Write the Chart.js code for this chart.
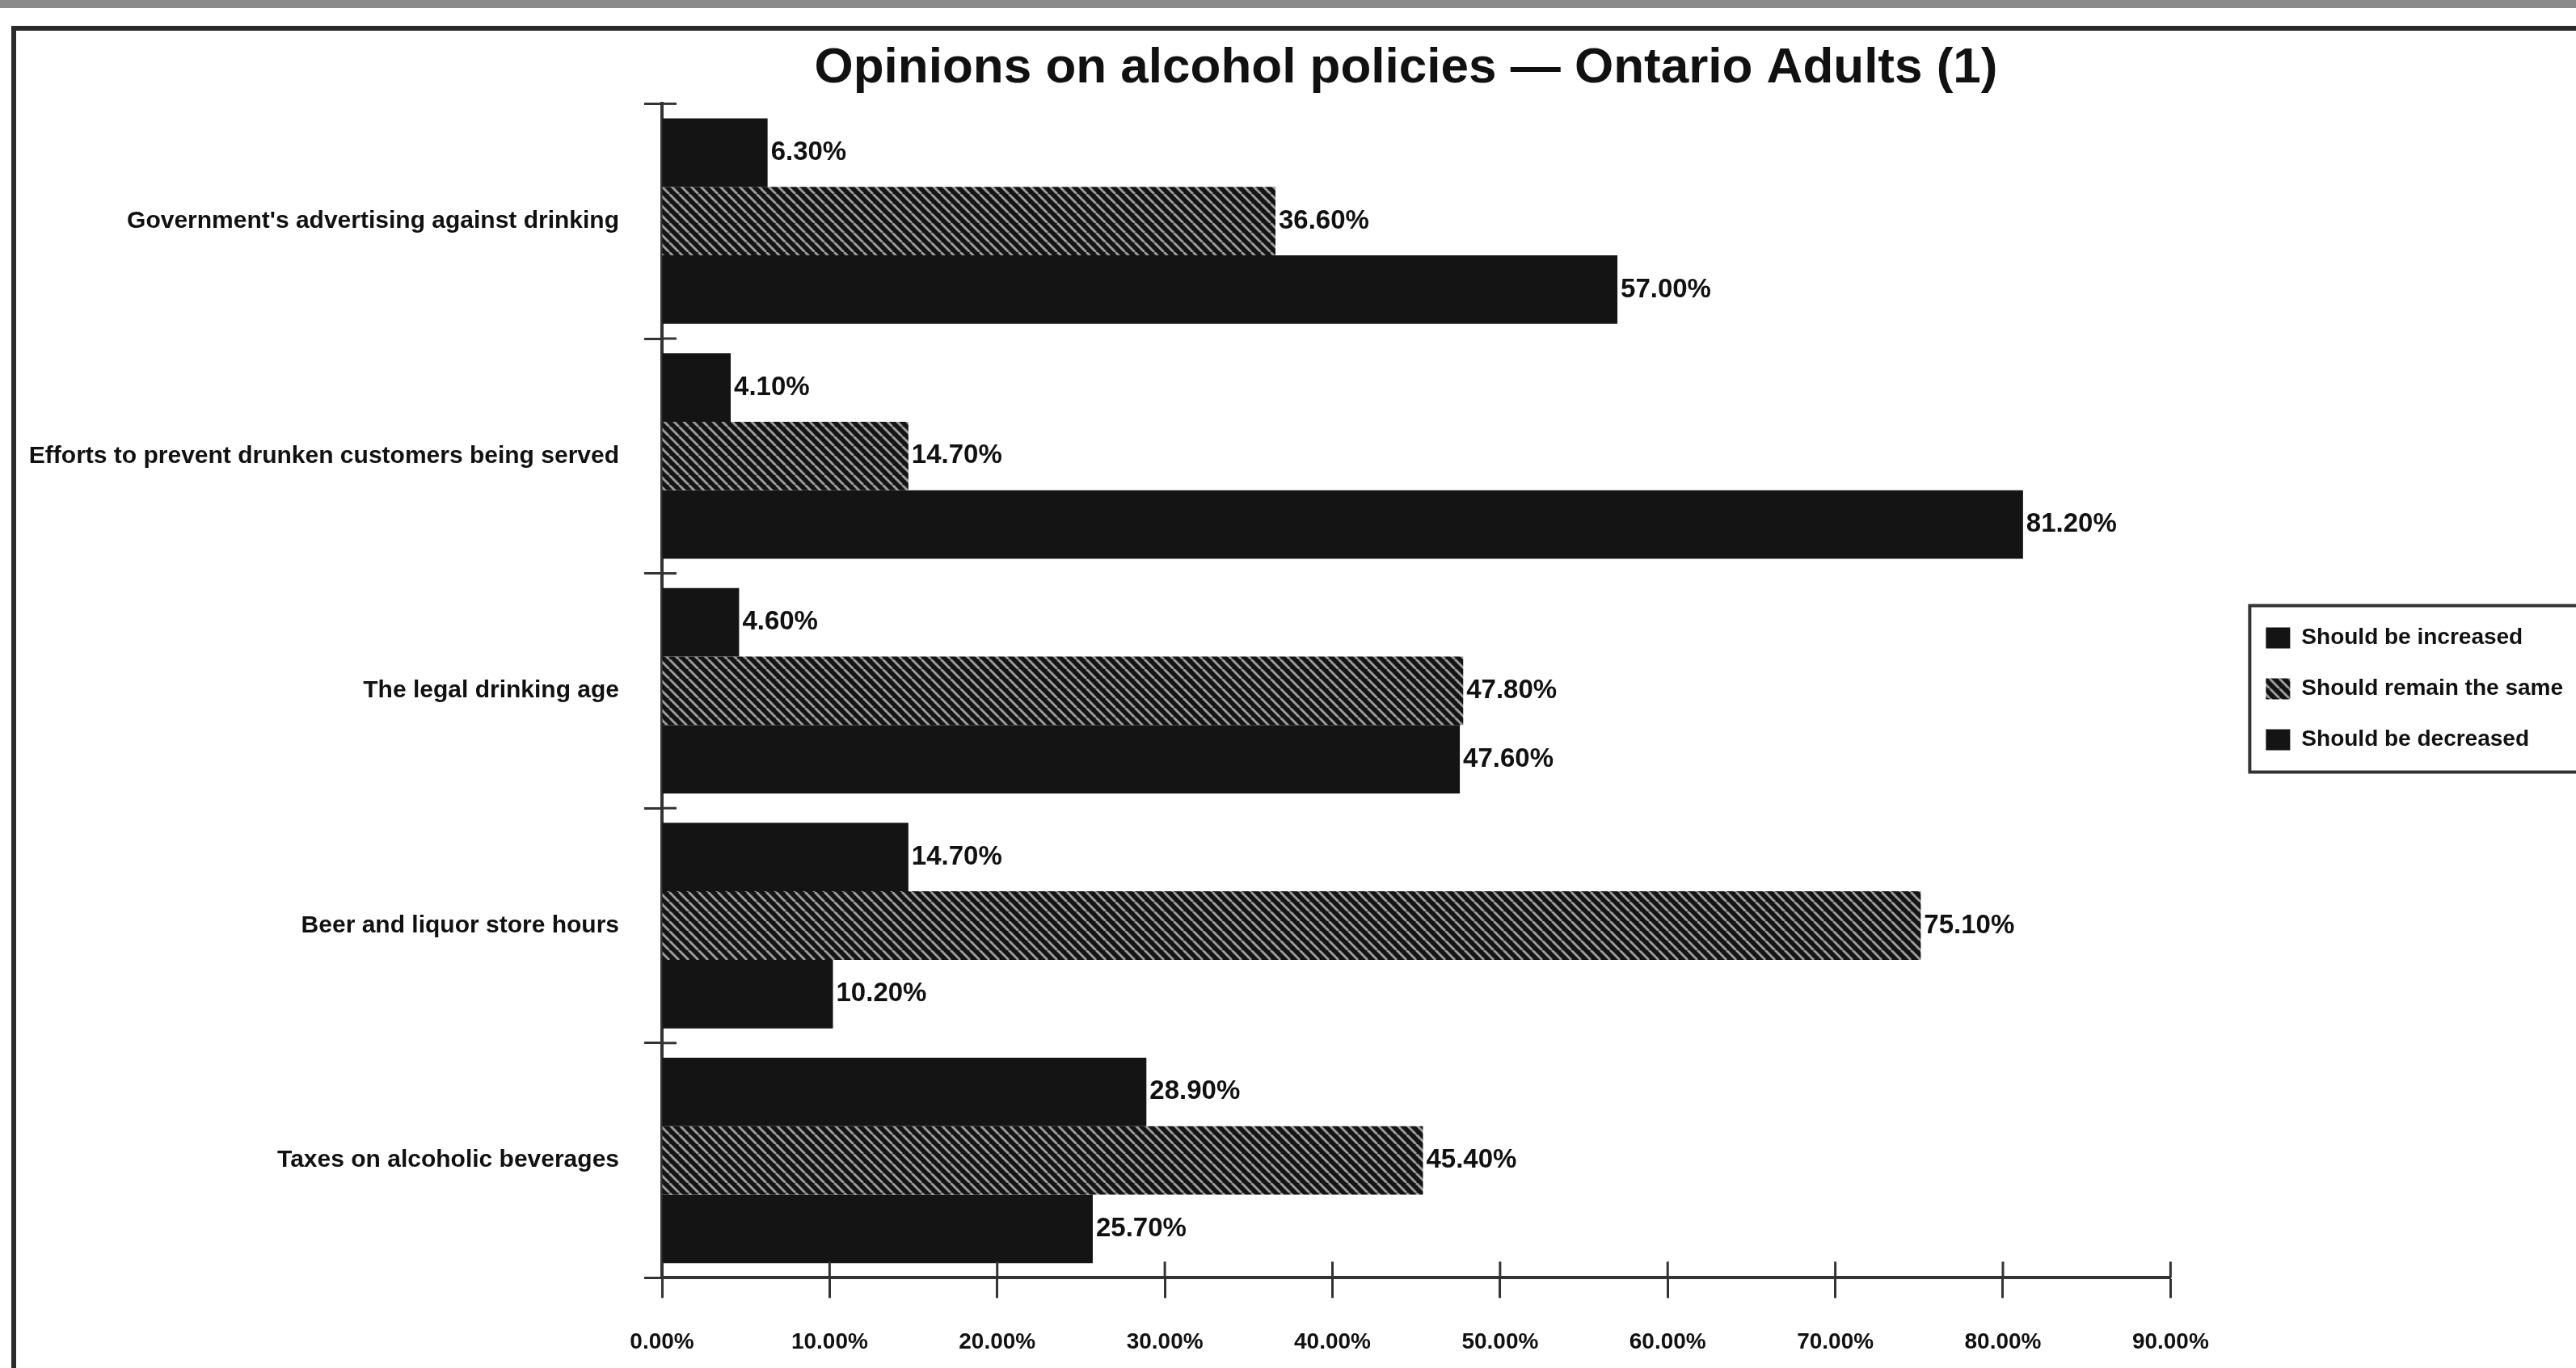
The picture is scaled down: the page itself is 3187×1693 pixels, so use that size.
<!DOCTYPE html>
<html><head><meta charset="utf-8">
<script src="https://cdn.jsdelivr.net/npm/chart.js@4.4.0/dist/chart.umd.min.js"></script>
<style>
html,body{margin:0;padding:0;background:#fff;overflow:hidden;width:3187px;height:1693px;position:relative;}
#scan{position:absolute;left:0;top:0;width:3187px;height:10px;background:#8a8a8a;}
#frame{position:absolute;left:14px;top:32px;width:3300px;height:1800px;border-left:6px solid #2a2a2a;border-top:6px solid #2a2a2a;}
#c{position:absolute;left:0;top:0;}
</style></head><body>
<div id="scan"></div><div id="frame"></div>
<canvas id="c" width="3450" height="1693"></canvas>
<script>
const chartTitle = 'Opinions on alcohol policies \u2014 Ontario Adults (1)';
const categories = [
  "Government's advertising against drinking",
  'Efforts to prevent drunken customers being served',
  'The legal drinking age',
  'Beer and liquor store hours',
  'Taxes on alcoholic beverages'
];
const seriesNames = ['Should be increased', 'Should remain the same', 'Should be decreased'];
const increased  = [6.3, 4.1, 4.6, 14.7, 28.9];
const remainSame = [36.6, 14.7, 47.8, 75.1, 45.4];
const decreased  = [57.0, 81.2, 47.6, 10.2, 25.7];
const xTickLabels = ['0.00%','10.00%','20.00%','30.00%','40.00%','50.00%','60.00%','70.00%','80.00%','90.00%'];

const FONT = '"Liberation Sans", Arial, sans-serif';
const canvas = document.getElementById('c');
const mainCtx = canvas.getContext('2d');

function makeHatch() {
  const s = 12;
  const p = document.createElement('canvas');
  p.width = s; p.height = s;
  const g = p.getContext('2d');
  g.fillStyle = '#141414'; g.fillRect(0, 0, s, s);
  g.strokeStyle = '#9c9c9c'; g.lineWidth = 3;
  for (const o of [-s, 0, s]) { g.beginPath(); g.moveTo(o, 0); g.lineTo(o + s, s); g.stroke(); }
  return mainCtx.createPattern(p, 'repeat');
}
const hatch = makeHatch();

const valueLabels = {
  id: 'valueLabels',
  afterDatasetsDraw(chart) {
    const ctx = chart.ctx;
    ctx.save();
    ctx.font = 'bold 33px ' + FONT;
    ctx.fillStyle = '#111';
    ctx.textBaseline = 'middle';
    ctx.textAlign = 'left';
    chart.data.datasets.forEach((ds, i) => {
      chart.getDatasetMeta(i).data.forEach((bar, j) => {
        ctx.fillText(ds.data[j].toFixed(2) + '%', bar.x + 4, bar.y);
      });
    });
    ctx.restore();
  }
};

// crossing tick marks on both axes (the original's ticks cross the axis lines)
const crossTicks = {
  id: 'crossTicks',
  afterDraw(chart) {
    const ctx = chart.ctx, x = chart.scales.x, y = chart.scales.y;
    ctx.save();
    ctx.strokeStyle = '#333'; ctx.lineWidth = 3;
    x.ticks.forEach((t, i) => {
      const px = x.getPixelForTick(i);
      ctx.beginPath(); ctx.moveTo(px, x.top - 20); ctx.lineTo(px, x.top); ctx.stroke();
    });
    for (let i = 0; i <= categories.length; i++) {
      const py = y.getPixelForValue(i - 0.5);
      ctx.beginPath(); ctx.moveTo(y.right, py); ctx.lineTo(y.right + 18, py); ctx.stroke();
    }
    ctx.restore();
  }
};

const LEGEND_SHIFT_X = 83;
const LEGEND_SHIFT_Y = -18;
const TITLE_SHIFT = 187;
const shiftBoxes = {
  id: 'shiftBoxes',
  afterLayout(chart) {
    const l = chart.legend;
    if (l) { l.left += LEGEND_SHIFT_X; l.right += LEGEND_SHIFT_X; l.top += LEGEND_SHIFT_Y; l.bottom += LEGEND_SHIFT_Y; }
    const t = chart.titleBlock;
    if (t) { t.left += TITLE_SHIFT; t.right += TITLE_SHIFT; }
  },
  afterDraw(chart) {
    const l = chart.legend;
    if (!l || !l.legendHitBoxes || !l.legendHitBoxes.length) return;
    const hb = l.legendHitBoxes;
    const first = hb[0], last = hb[hb.length - 1];
    const ctx = chart.ctx;
    ctx.save();
    ctx.strokeStyle = '#333';
    ctx.lineWidth = 4;
    const x = first.left - 20, y = first.top - 26;
    ctx.strokeRect(x, y, chart.width - x + 20, last.top + last.height + 26 - y);
    ctx.restore();
  }
};

new Chart(canvas, {
  type: 'bar',
  data: {
    labels: categories,
    datasets: [
      { label: seriesNames[0], data: increased,  backgroundColor: '#141414', borderWidth: 0 },
      { label: seriesNames[1], data: remainSame, backgroundColor: hatch,     borderWidth: 0 },
      { label: seriesNames[2], data: decreased,  backgroundColor: '#141414', borderWidth: 0 }
    ]
  },
  options: {
    indexAxis: 'y',
    responsive: false,
    animation: false,
    devicePixelRatio: 1,
    categoryPercentage: 0.875,
    barPercentage: 1.0,
    layout: { padding: { left: 7, right: 352, top: 48, bottom: 0 } },
    plugins: {
      title: {
        display: true, text: chartTitle, color: '#111',
        font: { family: FONT, size: 62, weight: 'bold' },
        padding: { top: 0, bottom: 6 }
      },
      legend: {
        position: 'right',
        labels: {
          color: '#111',
          font: { family: FONT, size: 28, weight: 'bold' },
          boxWidth: 30, boxHeight: 26, padding: 35
        }
      },
      tooltip: { enabled: false }
    },
    scales: {
      y: {
        afterFit(scale) { scale.width = 812; },
        ticks: { color: '#111', font: { family: FONT, size: 30, weight: 'bold' }, padding: 31 },
        grid: { drawOnChartArea: false, tickLength: 22, tickColor: '#333', tickWidth: 3, offset: true },
        border: { color: '#333', width: 4 }
      },
      x: {
        min: 0, max: 90,
        afterFit(scale) { scale.height -= 23; },
        ticks: {
          stepSize: 10, color: '#111', padding: 38,
          font: { family: FONT, size: 28, weight: 'bold' },
          callback: (v, i) => xTickLabels[i]
        },
        grid: { drawOnChartArea: false, tickLength: 25, tickColor: '#333', tickWidth: 3 },
        border: { color: '#333', width: 4 }
      }
    }
  },
  plugins: [valueLabels, crossTicks, shiftBoxes]
});
</script>
</body></html>
